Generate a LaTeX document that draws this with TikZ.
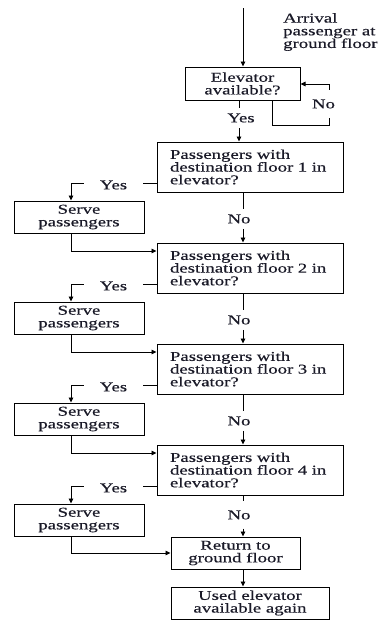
\documentclass[tikz,border=0pt]{standalone}
\usepackage{fontspec}
\usetikzlibrary{arrows.meta}
\newfontfamily\wf[FakeStretch=1.39,FakeBold=0.35]{Liberation Serif}
\newcommand{\wfs}{\wf\fontsize{13.5}{12.7}\selectfont}
\definecolor{ink}{HTML}{1A1A28}
\begin{document}
\begin{tikzpicture}[x=1pt,y=-1pt,
  ln/.style={line width=0.9pt},
  arr/.style={line width=0.9pt,-{Triangle[length=5pt,width=4.5pt]}},
  bx/.style={draw,line width=1pt,inner sep=0pt,align=center,font=\wfs,text=ink},
  dec/.style={bx,minimum width=186pt,minimum height=50pt,text width=160pt,inner xsep=13pt,align=left},
  srv/.style={bx,minimum width=130pt,minimum height=32pt},
  lbl/.style={font=\wfs,text=ink,inner xsep=1pt}]
\useasboundingbox (0,0) rectangle (380,622);
\fill[white] (0,0) rectangle (380,622);

\coordinate (top) at (243,8);
\coordinate (mx) at (243,0);
\coordinate (cx) at (71,0);
\coordinate (ex) at (239,0);
\coordinate (nx) at (329,0);
\coordinate (lx) at (272,0);

\node[font=\wfs,text=ink,align=left,anchor=north west,inner sep=0pt] (arr) at (283,13) {Arrival\\passenger at\\ground floor};

\node[bx,minimum width=115pt,minimum height=33pt] (elev) at (242.5,83.5) {Elevator\\available?};

\draw[arr] (top) -- (top |- elev.north);

% No loop
\node[lbl,inner ysep=9.7pt] (n0) at (323.5,104) {No};
\coordinate (lp) at (0,125);
\draw[ln] (lx |- elev.south) -- (lx |- lp) -- (nx |- lp) -- (nx |- n0.south);
\draw[arr] (nx |- n0.north) -- (nx |- 0,84) -- (elev.east |- 0,84);

% Yes under elevator
\node[lbl,inner ysep=5.7pt] (y0) at (241,118) {Yes};

\foreach \k/\T in {1/142,2/243,3/344,4/445} {
  \node[dec] (d\k) at (250,{\T+25}) {Passengers with\\destination floor \k\ in\\elevator?};
  \node[srv] (s\k) at (79,{\T+75}) {Serve\\passengers};
  \coordinate (yl\k) at (0,{\T+41});
  \node[lbl,inner xsep=16pt] (y\k) at (113.5,{\T+43}) {Yes};
  \draw[ln] (d\k.west |- yl\k) -- (y\k.east |- yl\k);
  \draw[arr] (y\k.west |- yl\k) -| (cx |- s\k.north);
}

\draw[ln] (ex |- elev.south) -- (ex |- y0.north);
\draw[arr] (ex |- y0.south) -- (ex |- d1.north);

\node[bx,minimum width=129pt,minimum height=32pt] (ret) at (235.5,553) {Return to\\ground floor};
\node[bx,minimum width=158pt,minimum height=32pt] (used) at (250,603) {Used elevator\\available again};

\foreach \k/\T/\n in {1/142/2,2/243/3,3/344/4} {
  \node[lbl,inner ysep=5.2pt] (n\k) at (239,{\T+77}) {No};
  \draw[ln] (mx |- d\k.south) -- (mx |- n\k.north);
  \draw[arr] (mx |- n\k.south) -- (mx |- d\n.north);
  \coordinate (sl\k) at (0,{\T+109});
  \draw[arr] (cx |- s\k.south) -- (cx |- sl\k) -- (d\n.west |- sl\k);
}
\node[lbl,inner ysep=9pt] (n4) at (239,515) {No};
\draw[ln] (mx |- d4.south) -- (mx |- n4.north);
\draw[arr] (mx |- n4.south) -- (mx |- ret.north);
\draw[arr] (cx |- s4.south) |- (ret.west);
\draw[arr] (mx |- ret.south) -- (mx |- used.north);
\end{tikzpicture}
\end{document}
